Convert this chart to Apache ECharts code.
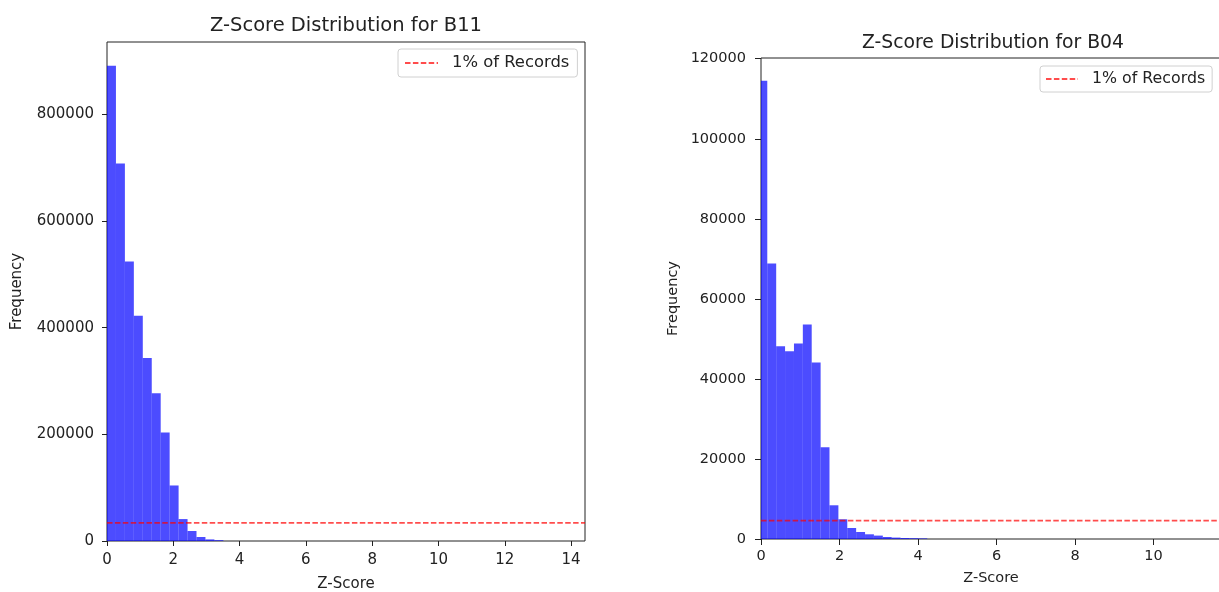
<!DOCTYPE html>
<html>
<head>
<meta charset="utf-8">
<script src="https://cdn.jsdelivr.net/npm/echarts@6/dist/echarts.min.js"></script>
<style>
html,body{margin:0;padding:0;background:#fff;}
#c{width:1219px;height:592px;}
</style>
</head>
<body>
<div id="c"></div>
<script>
// ---- Data ----
var titleB11 = 'Z-Score Distribution for B11';
var titleB04 = 'Z-Score Distribution for B04';
var legendName = '1% of Records';

// B11 histogram: bin edges and counts
var b11Edges = [0, 0.27, 0.54, 0.81, 1.08, 1.35, 1.62, 1.89, 2.16, 2.43, 2.70, 2.97, 3.24, 3.51];
var b11Counts = [891000, 707900, 524000, 422400, 343300, 277200, 203200, 104100, 41100, 18700, 7500, 3000, 1500];
var b11OnePct = 34000;
var b11XTicks = [0, 2, 4, 6, 8, 10, 12, 14];
var b11YTicks = [0, 200000, 400000, 600000, 800000];
var b11XMax = 14.42;
var b11YMax = 935500;

// B04 histogram: bin edges and counts
var b04Edges = [0, 0.160, 0.387, 0.613, 0.840, 1.066, 1.292, 1.519, 1.745, 1.972, 2.198, 2.424, 2.651, 2.877, 3.104, 3.330, 3.556, 3.783, 4.009, 4.236];
var b04Counts = [114500, 68850, 48175, 46925, 48850, 53600, 44100, 22925, 8425, 4925, 2750, 1750, 1175, 850, 500, 350, 250, 200, 150];
var b04OnePct = 4600;
var b04XTicks = [0, 2, 4, 6, 8, 10];
var b04YTicks = [0, 20000, 40000, 60000, 80000, 100000, 120000];
var b04XMax = 11.72;
var b04YMax = 120175;

// ---- Build ----
var FONT = 'DejaVu Sans';
var TXT = '#222';
var BAR = 'rgba(0,0,255,0.7)';
var RED = 'rgba(255,0,0,0.7)';

function histData(edges, counts) {
  var out = [];
  for (var i = 0; i < counts.length; i++) out.push([edges[i], edges[i + 1], counts[i]]);
  return out;
}
function renderBar(params, api) {
  var p0 = api.coord([api.value(0), api.value(2)]);
  var p1 = api.coord([api.value(1), 0]);
  return {
    type: 'rect',
    shape: { x: p0[0], y: p0[1], width: p1[0] - p0[0], height: p1[1] - p0[1] },
    style: { fill: BAR }
  };
}
function xAxisCfg(idx, max, ticks, fs, gap, margin, tickLen) {
  return {
    type: 'value', gridIndex: idx, min: 0, max: max,
    name: 'Z-Score', nameLocation: 'middle', nameGap: gap,
    nameTextStyle: { fontFamily: FONT, fontSize: fs, color: TXT },
    axisLine: { show: false },
    axisTick: { show: true, length: tickLen, customValues: ticks, lineStyle: { color: TXT, width: 1 } },
    axisLabel: { customValues: ticks, margin: margin, fontFamily: FONT, fontSize: fs, color: TXT, formatter: function (v) { return String(v); } },
    splitLine: { show: false }
  };
}
function yAxisCfg(idx, max, ticks, fs, gap, margin, tickLen) {
  return {
    type: 'value', gridIndex: idx, min: 0, max: max,
    name: 'Frequency', nameLocation: 'middle', nameGap: gap, nameRotate: 90,
    nameTextStyle: { fontFamily: FONT, fontSize: fs, color: TXT },
    axisLine: { show: false },
    axisTick: { show: true, length: tickLen, customValues: ticks, lineStyle: { color: TXT, width: 1 } },
    axisLabel: { customValues: ticks, margin: margin, fontFamily: FONT, fontSize: fs, color: TXT, formatter: function (v) { return String(v); } },
    splitLine: { show: false }
  };
}
function legendCfg(left, top, pad, iw, fs, tpad) {
  return {
    data: [legendName], left: left, top: top, orient: 'vertical',
    padding: pad, itemWidth: iw, itemHeight: 16,
    itemStyle: { opacity: 0 },
    backgroundColor: 'rgba(255,255,255,0.8)', borderColor: '#d0d0d0', borderWidth: 1, borderRadius: 3,
    textStyle: { fontFamily: FONT, fontSize: fs, color: TXT, padding: [0, 0, 0, tpad] },
    selectedMode: false
  };
}

var chart = echarts.init(document.getElementById('c'), null, { renderer: 'canvas' });
chart.setOption({
  backgroundColor: '#fff',
  animation: false,
  title: [
    { text: titleB11, left: 341, top: 11, textAlign: 'center', textStyle: { fontFamily: FONT, fontSize: 19.5, fontWeight: 'normal', color: TXT } },
    { text: titleB04, left: 988, top: 29, textAlign: 'center', textStyle: { fontFamily: FONT, fontSize: 18.8, fontWeight: 'normal', color: TXT } }
  ],
  legend: [
    legendCfg(398, 49, [6, 8, 6, 6], 33, 16.4, 9),
    legendCfg(1040, 66, [5, 7, 5, 5], 32, 15.8, 9)
  ],
  grid: [
    { left: 107, top: 42, width: 478, height: 499, outerBoundsMode: 'none', containLabel: false, show: true, borderColor: TXT, borderWidth: 1, backgroundColor: 'transparent' },
    { left: 761, top: 58, width: 460, height: 481, outerBoundsMode: 'none', containLabel: false, show: true, borderColor: TXT, borderWidth: 1, backgroundColor: 'transparent' }
  ],
  xAxis: [
    xAxisCfg(0, b11XMax, b11XTicks, 15, 36, 12, 5),
    xAxisCfg(1, b04XMax, b04XTicks, 14.5, 32, 10, 6)
  ],
  yAxis: [
    yAxisCfg(0, b11YMax, b11YTicks, 15, 82, 13, 5),
    yAxisCfg(1, b04YMax, b04YTicks, 14.5, 80, 15, 6)
  ],
  series: [
    { type: 'custom', xAxisIndex: 0, yAxisIndex: 0, renderItem: renderBar, data: histData(b11Edges, b11Counts), z: 2, clip: true },
    { name: legendName, type: 'line', xAxisIndex: 0, yAxisIndex: 0, symbol: 'none', z: 3,
      lineStyle: { color: RED, width: 1.6, type: [5.5, 2.4] }, itemStyle: { color: RED },
      data: [[0, b11OnePct], [b11XMax, b11OnePct]] },
    { type: 'custom', xAxisIndex: 1, yAxisIndex: 1, renderItem: renderBar, data: histData(b04Edges, b04Counts), z: 2, clip: true },
    { name: legendName, type: 'line', xAxisIndex: 1, yAxisIndex: 1, symbol: 'none', z: 3,
      lineStyle: { color: RED, width: 1.6, type: [5.5, 2.4] }, itemStyle: { color: RED },
      data: [[0, b04OnePct], [b04XMax, b04OnePct]] }
  ]
});
</script>
</body>
</html>
